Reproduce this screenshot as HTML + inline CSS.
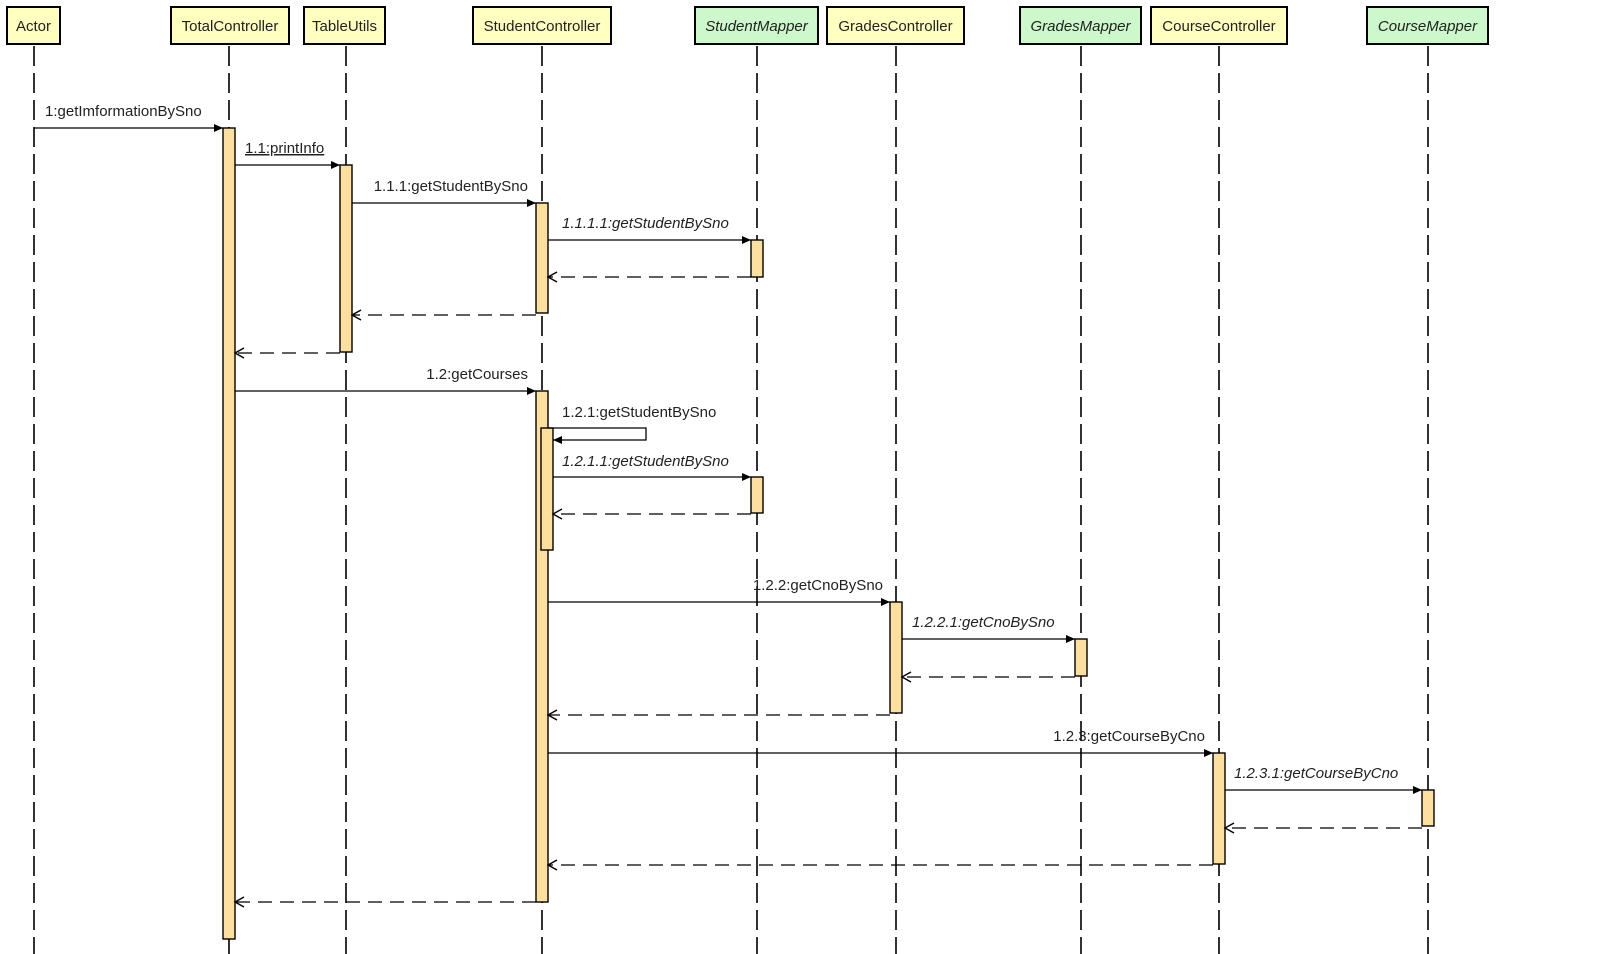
<!DOCTYPE html>
<html><head><meta charset="utf-8"><style>
html,body{margin:0;padding:0;background:#fff;}
svg{display:block;}
text{font-family:"Liberation Sans",Arial,sans-serif;font-size:15px;fill:#222;}
.it{font-style:italic;}
.ll{stroke:#000;stroke-width:1.6;stroke-dasharray:20 7;}
.msg{stroke:#000;stroke-width:1.3;fill:none;}
.ret{stroke:#000;stroke-width:1.3;fill:none;stroke-dasharray:14 8;}
.act{fill:#ffdf9e;stroke:#000;stroke-width:1.4;}
.by{fill:#ffffc0;stroke:#000;stroke-width:2;}
.bg{fill:#ccf8cc;stroke:#000;stroke-width:2;}
</style></head><body>
<svg width="1618" height="954" viewBox="0 0 1618 954" xmlns="http://www.w3.org/2000/svg">
<defs>
<marker id="fa" markerWidth="10" markerHeight="10" refX="9" refY="5" orient="auto" markerUnits="userSpaceOnUse"><path d="M0,1 L9,5 L0,9 z" fill="#000"/></marker>
<marker id="oa" markerWidth="12" markerHeight="12" refX="10" refY="6" orient="auto" markerUnits="userSpaceOnUse"><path d="M1,1 L10,6 L1,11" fill="none" stroke="#000" stroke-width="1.4"/></marker>
</defs>
<!-- lifelines -->
<g class="ll">
<line x1="34" y1="46" x2="34" y2="954"/>
<line x1="229" y1="46" x2="229" y2="954"/>
<line x1="346" y1="46" x2="346" y2="954"/>
<line x1="542" y1="46" x2="542" y2="954"/>
<line x1="757" y1="46" x2="757" y2="954"/>
<line x1="896" y1="46" x2="896" y2="954"/>
<line x1="1081" y1="46" x2="1081" y2="954"/>
<line x1="1219" y1="46" x2="1219" y2="954"/>
<line x1="1428" y1="46" x2="1428" y2="954"/>
</g>
<!-- header boxes -->
<rect class="by" x="7" y="7" width="53" height="37"/><text x="33.5" y="31" text-anchor="middle">Actor</text>
<rect class="by" x="171" y="7" width="118" height="37"/><text x="230" y="31" text-anchor="middle">TotalController</text>
<rect class="by" x="304" y="7" width="81" height="37"/><text x="344.5" y="31" text-anchor="middle">TableUtils</text>
<rect class="by" x="473" y="7" width="138" height="37"/><text x="542" y="31" text-anchor="middle">StudentController</text>
<rect class="bg" x="695" y="7" width="123" height="37"/><text class="it" x="756.5" y="31" text-anchor="middle">StudentMapper</text>
<rect class="by" x="827" y="7" width="137" height="37"/><text x="895.5" y="31" text-anchor="middle">GradesController</text>
<rect class="bg" x="1020" y="7" width="121" height="37"/><text class="it" x="1080.5" y="31" text-anchor="middle">GradesMapper</text>
<rect class="by" x="1151" y="7" width="136" height="37"/><text x="1219" y="31" text-anchor="middle">CourseController</text>
<rect class="bg" x="1367" y="7" width="121" height="37"/><text class="it" x="1427.5" y="31" text-anchor="middle">CourseMapper</text>
<!-- activations -->
<rect class="act" x="223" y="128" width="12" height="811"/>
<rect class="act" x="340" y="165" width="12" height="187"/>
<rect class="act" x="536" y="203" width="12" height="110"/>
<rect class="act" x="751" y="240" width="12" height="37"/>
<rect class="act" x="536" y="391" width="12" height="511"/>
<rect class="act" x="541" y="428" width="12" height="122"/>
<rect class="act" x="751" y="477" width="12" height="36"/>
<rect class="act" x="890" y="602" width="12" height="111"/>
<rect class="act" x="1075" y="639" width="12" height="37"/>
<rect class="act" x="1213" y="753" width="12" height="111"/>
<rect class="act" x="1422" y="790" width="12" height="36"/>
<!-- messages -->
<line class="msg" x1="34" y1="128" x2="223" y2="128" marker-end="url(#fa)"/>
<text x="45" y="116">1:getImformationBySno</text>
<line class="msg" x1="235" y1="165" x2="340" y2="165" marker-end="url(#fa)"/>
<text x="245" y="153" text-decoration="underline">1.1:printInfo</text>
<line class="msg" x1="352" y1="203" x2="536" y2="203" marker-end="url(#fa)"/>
<text x="528" y="191" text-anchor="end">1.1.1:getStudentBySno</text>
<line class="msg" x1="548" y1="240" x2="751" y2="240" marker-end="url(#fa)"/>
<text class="it" x="562" y="228">1.1.1.1:getStudentBySno</text>
<line class="ret" x1="751" y1="277" x2="548" y2="277" marker-end="url(#oa)"/>
<line class="ret" x1="536" y1="315" x2="352" y2="315" marker-end="url(#oa)"/>
<line class="ret" x1="340" y1="353" x2="235" y2="353" marker-end="url(#oa)"/>
<line class="msg" x1="235" y1="391" x2="536" y2="391" marker-end="url(#fa)"/>
<text x="528" y="379" text-anchor="end">1.2:getCourses</text>
<polyline class="msg" points="548,428 646,428 646,440 553,440" marker-end="url(#fa)"/>
<text x="562" y="417">1.2.1:getStudentBySno</text>
<line class="msg" x1="553" y1="477" x2="751" y2="477" marker-end="url(#fa)"/>
<text class="it" x="562" y="466">1.2.1.1:getStudentBySno</text>
<line class="ret" x1="751" y1="514" x2="553" y2="514" marker-end="url(#oa)"/>
<line class="msg" x1="548" y1="602" x2="890" y2="602" marker-end="url(#fa)"/>
<text x="883" y="590" text-anchor="end">1.2.2:getCnoBySno</text>
<line class="msg" x1="902" y1="639" x2="1075" y2="639" marker-end="url(#fa)"/>
<text class="it" x="912" y="627">1.2.2.1:getCnoBySno</text>
<line class="ret" x1="1075" y1="677" x2="902" y2="677" marker-end="url(#oa)"/>
<line class="ret" x1="890" y1="715" x2="548" y2="715" marker-end="url(#oa)"/>
<line class="msg" x1="548" y1="753" x2="1213" y2="753" marker-end="url(#fa)"/>
<text x="1205" y="741" text-anchor="end">1.2.3:getCourseByCno</text>
<line class="msg" x1="1225" y1="790" x2="1422" y2="790" marker-end="url(#fa)"/>
<text class="it" x="1234" y="778">1.2.3.1:getCourseByCno</text>
<line class="ret" x1="1422" y1="828" x2="1225" y2="828" marker-end="url(#oa)"/>
<line class="ret" x1="1213" y1="865" x2="548" y2="865" marker-end="url(#oa)"/>
<line class="ret" x1="536" y1="902" x2="235" y2="902" marker-end="url(#oa)"/>
</svg>
</body></html>
